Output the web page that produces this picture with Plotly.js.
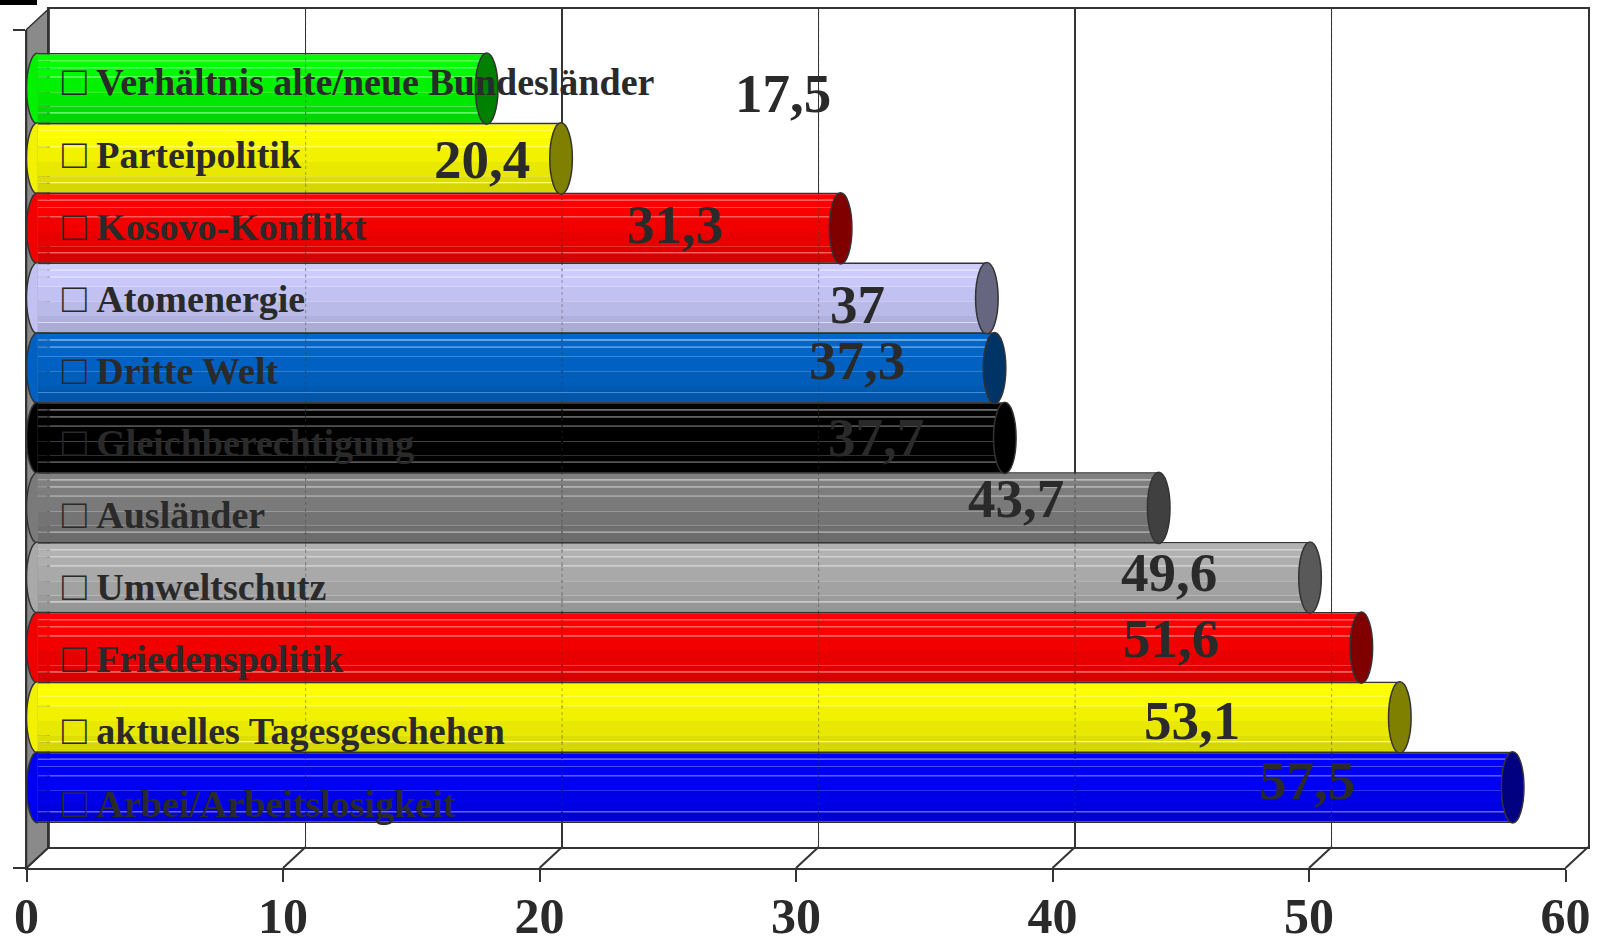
<!DOCTYPE html>
<html>
<head>
<meta charset="utf-8">
<script src="https://cdn.plot.ly/plotly-3.0.1.min.js"></script>
<style>
  html, body { margin: 0; padding: 0; background: #ffffff; }
  #chart { width: 1597px; height: 947px; }
</style>
</head>
<body>
<div id="chart"></div>
<script>
// ---- data ----
const categories = [
  "Verhältnis alte/neue Bundesländer",
  "Parteipolitik",
  "Kosovo-Konflikt",
  "Atomenergie",
  "Dritte Welt",
  "Gleichberechtigung",
  "Ausländer",
  "Umweltschutz",
  "Friedenspolitik",
  "aktuelles Tagesgeschehen",
  "Arbei/Arbeitslosigkeit"
];
const values = [17.5, 20.4, 31.3, 37, 37.3, 37.7, 43.7, 49.6, 51.6, 53.1, 57.5];
const xTicks = [0, 10, 20, 30, 40, 50, 60];

// ---- styling ----
const barColors = [
  "#00ff00", "#ffff00", "#ff0000", "#ccccff", "#0066cc", "#000000",
  "#808080", "#b2b2b2", "#ff0000", "#ffff00", "#0000ff"
];
const TEXT = "#2a2a2a";
const LINE = "#333333";
const SERIF = "Liberation Serif, Times New Roman, serif";

// value label nudges in pixels [dx from bar end, dy]
const valueNudge = [
  [296, -5], [-79, -1.5], [-166, 4], [-129, -6.5], [-138, 7.5], [-129, 0],
  [-143, 9], [-141, 5], [-190, 9], [-208, -3.5], [-206, 7]
];

// ---- frame geometry (pixels) ----
const W = 1597, H = 947;
const PX = 25.65;                 // pixels per unit
const FRONT_X0 = 26.5, DEPTH_X = 22.6, DEPTH_Y = 21;
const MID_X0 = FRONT_X0 + DEPTH_X / 2;
const BACK_X0 = FRONT_X0 + DEPTH_X;
const FRONT_Y = 868, BACK_Y = FRONT_Y - DEPTH_Y;
const TOP_FRONT_Y = 29.5, TOP_BACK_Y = TOP_FRONT_Y - DEPTH_Y;
const XMAX = 60;
const ROW0 = 88.6, ROW = 69.87;   // bar row centre / pitch
const LABEL0 = 81.5, LABEL_STEP = 72.1;
const BAR_W = 1.02;
const CAP_RX = DEPTH_X / 2;

const fx = p => p / W;
const fy = p => 1 - p / H;

function rgb(hex) {
  const n = parseInt(hex.slice(1), 16);
  return [(n >> 16) & 255, (n >> 8) & 255, n & 255];
}
function css(c) { return "rgb(" + c.map(v => Math.max(0, Math.min(255, Math.round(v)))).join(",") + ")"; }
function shade(hex, f) { return css(rgb(hex).map(v => v * f)); }
function tint(hex, t) { return css(rgb(hex).map(v => v + (255 - v) * t)); }

// horizontal bands that give each cylinder its rounded shading
const bands = [
  { a: 0.000, b: 0.022, edge: true },
  { a: 0.022, b: 0.100, f: 1.00 },
  { a: 0.100, b: 0.116, t: 0.35 },
  { a: 0.116, b: 0.200, f: 1.00 },
  { a: 0.200, b: 0.214, t: 0.28 },
  { a: 0.214, b: 0.330, f: 0.98 },
  { a: 0.330, b: 0.344, t: 0.22 },
  { a: 0.344, b: 0.550, f: 0.95 },
  { a: 0.550, b: 0.750, f: 0.91 },
  { a: 0.750, b: 0.835, f: 0.87 },
  { a: 0.835, b: 0.849, t: 0.25 },
  { a: 0.849, b: 0.978, f: 0.84 },
  { a: 0.978, b: 1.000, edge: true }
];

const idx = categories.map((_, i) => i);
const traces = [];

// empty traces so every subplot is created
traces.push({ type: "scatter", x: [], y: [], xaxis: "x", yaxis: "y", hoverinfo: "skip", showlegend: false });

bands.forEach(bd => {
  traces.push({
    type: "bar",
    orientation: "h",
    x: values,
    y: idx,
    base: 0,
    xaxis: "x2",
    yaxis: "y2",
    offset: -BAR_W / 2 + bd.a * BAR_W,
    width: (bd.b - bd.a) * BAR_W,
    marker: {
      color: barColors.map(c => bd.edge ? LINE : (bd.t !== undefined ? tint(c, bd.t) : shade(c, bd.f))),
      line: { width: 0 }
    },
    hoverinfo: "skip",
    showlegend: false
  });
});

traces.push({ type: "scatter", x: [], y: [], xaxis: "x3", yaxis: "y3", hoverinfo: "skip", showlegend: false });

// ---- shapes ----
const shapes = [];

// left side wall
shapes.push({
  type: "path", xref: "paper", yref: "paper", layer: "below",
  path: `M${fx(FRONT_X0)},${fy(TOP_FRONT_Y)} L${fx(BACK_X0)},${fy(TOP_BACK_Y)} L${fx(BACK_X0)},${fy(BACK_Y)} L${fx(FRONT_X0)},${fy(FRONT_Y)} Z`,
  fillcolor: "#8a8a8a", line: { color: LINE, width: 1.5 }
});

// floor diagonals at each tick
xTicks.forEach(v => {
  shapes.push({
    type: "line", xref: "x2", yref: "paper", xsizemode: "pixel", xanchor: v,
    x0: -CAP_RX, x1: CAP_RX, y0: fy(FRONT_Y), y1: fy(BACK_Y),
    line: { color: LINE, width: 2 }, layer: "above"
  });
});

// back-wall grid faintly showing through the cylinders
xTicks.slice(1, -1).forEach(v => {
  shapes.push({
    type: "line", xref: "x", yref: "paper", x0: v, x1: v,
    y0: fy(BACK_Y), y1: fy(TOP_BACK_Y),
    line: { color: "rgba(60,60,60,0.35)", width: 1.2, dash: "dot" }, layer: "above"
  });
});

// cylinder ends
const k = 0.5523;
values.forEach((v, i) => {
  const t = i - BAR_W / 2, b = i + BAR_W / 2, ry = BAR_W / 2;
  // rounded left end
  shapes.push({
    type: "path", xref: "x2", yref: "y2", xsizemode: "pixel", xanchor: 0, layer: "above",
    path: `M0,${t} C${-k * CAP_RX},${t} ${-CAP_RX},${i - k * ry} ${-CAP_RX},${i} C${-CAP_RX},${i + k * ry} ${-k * CAP_RX},${b} 0,${b}`,
    fillcolor: shade(barColors[i], 0.95), line: { color: LINE, width: 1.5 }
  });
  // right end face
  shapes.push({
    type: "circle", xref: "x2", yref: "y2", xsizemode: "pixel", xanchor: v, layer: "above",
    x0: -CAP_RX, x1: CAP_RX, y0: t, y1: b,
    fillcolor: shade(barColors[i], 0.5), line: { color: LINE, width: 1.5 }
  });
});

// small dark mark in the top-left corner
shapes.push({
  type: "rect", xref: "paper", yref: "paper", layer: "above",
  x0: 0, x1: fx(37), y0: fy(5), y1: 1, fillcolor: "#000000", line: { width: 0 }
});

// ---- annotations ----
const annotations = [];
categories.forEach((c, i) => {
  annotations.push({
    xref: "paper", yref: "paper",
    x: fx(60), y: fy(LABEL0 + i * LABEL_STEP),
    xanchor: "left", yanchor: "middle", showarrow: false,
    text: '<span style="font-size:41px">□</span> <b>' + c + "</b>",
    font: { family: SERIF, size: 38, color: TEXT }
  });
});
values.forEach((v, i) => {
  annotations.push({
    xref: "x2", yref: "y2", x: v, y: i,
    xshift: valueNudge[i][0], yshift: valueNudge[i][1],
    xanchor: "center", yanchor: "middle", showarrow: false,
    text: "<b>" + String(v).replace(".", ",") + "</b>",
    font: { family: SERIF, size: 55, color: TEXT }
  });
});

const layout = {
  width: W, height: H,
  margin: { l: 0, r: 0, t: 0, b: 0 },
  paper_bgcolor: "#ffffff",
  plot_bgcolor: "rgba(0,0,0,0)",
  barmode: "overlay",
  showlegend: false,
  hovermode: false,
  // back wall with grid
  xaxis: {
    domain: [fx(BACK_X0), fx(BACK_X0 + XMAX * PX)], range: [0, XMAX],
    tickvals: xTicks, showgrid: true, gridcolor: LINE, gridwidth: 1.5,
    showline: true, mirror: true, linecolor: LINE, linewidth: 2,
    ticks: "", showticklabels: false, zeroline: false, fixedrange: true, anchor: "y"
  },
  yaxis: {
    domain: [fy(BACK_Y), fy(TOP_BACK_Y)], range: [0, 1],
    showgrid: false, showline: true, mirror: true, linecolor: LINE, linewidth: 2,
    ticks: "", showticklabels: false, zeroline: false, fixedrange: true, anchor: "x"
  },
  // cylinders (mid-depth plane)
  xaxis2: {
    domain: [0, 1], range: [-MID_X0 / PX, (W - MID_X0) / PX], anchor: "y2",
    visible: false, fixedrange: true
  },
  yaxis2: {
    domain: [0, 1], range: [(H - ROW0) / ROW, -ROW0 / ROW], anchor: "x2",
    visible: false, fixedrange: true
  },
  // front axis with labels
  xaxis3: {
    domain: [fx(FRONT_X0), fx(FRONT_X0 + XMAX * PX)], range: [0, XMAX], anchor: "y3",
    tickvals: xTicks, ticks: "outside", ticklen: 12, tickwidth: 2, tickcolor: LINE,
    ticklabelstandoff: -9,
    showline: true, linecolor: LINE, linewidth: 2, showgrid: false, zeroline: false,
    tickfont: { family: SERIF, size: 50, color: TEXT, weight: "bold" },
    fixedrange: true
  },
  yaxis3: {
    domain: [fy(FRONT_Y), fy(TOP_FRONT_Y)], range: [0, 1], anchor: "x3",
    tickvals: [0, 1], ticks: "outside", ticklen: 12, tickwidth: 2, tickcolor: LINE,
    showticklabels: false, showline: true, linecolor: LINE, linewidth: 2,
    showgrid: false, zeroline: false, fixedrange: true
  },
  shapes: shapes,
  annotations: annotations
};

Plotly.newPlot("chart", traces, layout, { displayModeBar: false, staticPlot: true });
</script>
</body>
</html>
